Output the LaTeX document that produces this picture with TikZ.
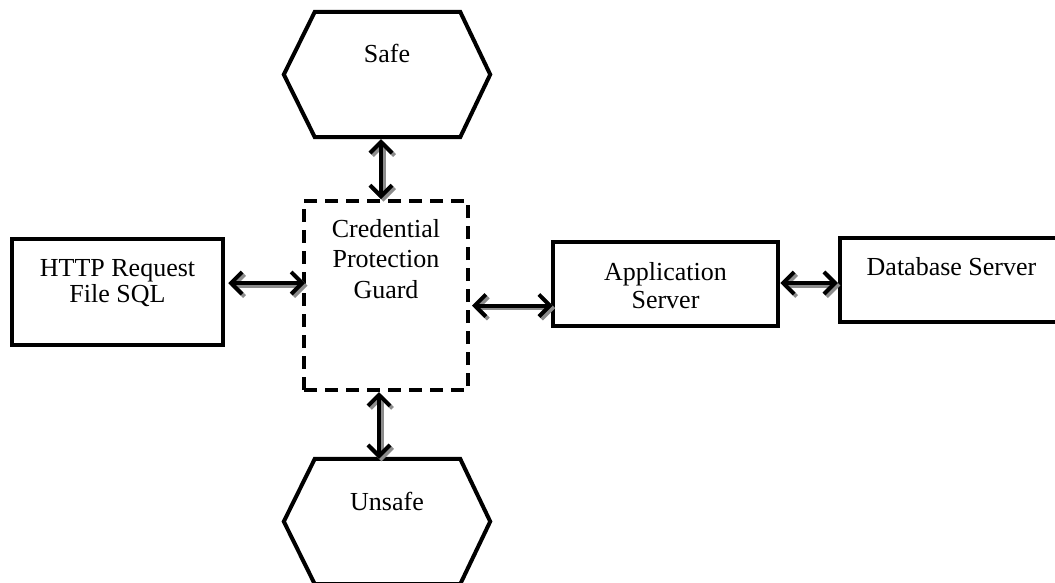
\documentclass[tikz,border=0pt]{standalone}
\usepackage{fontspec}
\setmainfont{Liberation Serif}
\usetikzlibrary{arrows.meta,calc}
\tikzset{
  boxnode/.style={draw=black, line width=4.5pt, rectangle, inner sep=0pt, fill=white},
  guardnode/.style={draw=black, line width=4pt, dash pattern=on 13pt off 8pt, rectangle, inner sep=0pt},
  hexnode/.style={rectangle, inner sep=0pt},
  hexline/.style={draw=black, line width=4pt, line join=miter},
  txt/.style={inner sep=0pt, align=center, font=\fontsize{26}{26}\selectfont},
  biarrow/.style={line width=4pt, {Straight Barb[length=11pt,width=22pt]}-{Straight Barb[length=11pt,width=22pt]}},
  shadowarrow/.style={biarrow, draw=black!45, transform canvas={xshift=2.5pt,yshift=-2.5pt}}
}
\newcommand\biconn[2]{\draw[shadowarrow] #1 -- #2; \draw[biarrow] #1 -- #2;}
\begin{document}
\begin{tikzpicture}[x=1pt,y=-1pt]
\useasboundingbox (0,0) rectangle (1055,582);
\clip (0,0) rectangle (1055,582);
\fill[white] (0,0) rectangle (1055,582);
% shapes
\node[hexnode, minimum width=206pt, minimum height=125pt] (safe) at (387,74.5) {};
\draw[hexline] ([xshift=31pt]safe.north west) -- ([xshift=-30pt]safe.north east) -- (safe.east)
  -- ([xshift=-30pt]safe.south east) -- ([xshift=31pt]safe.south west) -- (safe.west) -- cycle;
\node[txt] (safet) at (387,53.5) {Safe};

\node[hexnode, minimum width=206pt, minimum height=125pt] (unsafe) at (387,521.5) {};
\draw[hexline] ([xshift=31pt]unsafe.north west) -- ([xshift=-30pt]unsafe.north east) -- (unsafe.east)
  -- ([xshift=-30pt]unsafe.south east) -- ([xshift=31pt]unsafe.south west) -- (unsafe.west) -- cycle;
\node[txt] (unsafet) at (387,501.5) {Unsafe};

\node[guardnode, minimum width=164pt, minimum height=189pt] (guard) at (386,295.5) {};
\node[txt, font=\fontsize{26}{30.5}\selectfont] (guardt) at (386,259) {Credential\\Protection\\Guard};

\node[boxnode, minimum width=211pt, minimum height=106pt] (http) at (117.5,292) {};
\node[txt] (httpt) at (117.5,283) {HTTP Request\\File SQL};

\node[boxnode, minimum width=225pt, minimum height=84pt] (app) at (665.5,284) {};
\node[txt, font=\fontsize{26}{28}\selectfont] (appt) at (665.5,285.5) {Application\\Server};

\node[boxnode, minimum width=223pt, minimum height=84pt] (db) at (951.5,280) {};
\node[txt] (dbt) at (951.5,266.5) {Database Server};

% connectors
\biconn{([yshift=9pt,xshift=3pt]http.east)}{([yshift=9pt,xshift=3pt]http.east -| guard.west)}
\biconn{([yshift=-10pt,xshift=2pt]guard.east)}{([yshift=-10pt,xshift=2pt]guard.east -| app.west)}
\biconn{([yshift=1pt]app.east)}{([yshift=1pt]app.east -| db.west)}
\biconn{([xshift=-6pt,yshift=-2pt]safe.south)}{([xshift=-6pt]safe.south |- guard.north)}
\biconn{([xshift=-7pt]guard.south)}{([xshift=-7pt]guard.south |- unsafe.north)}
\end{tikzpicture}
\end{document}
